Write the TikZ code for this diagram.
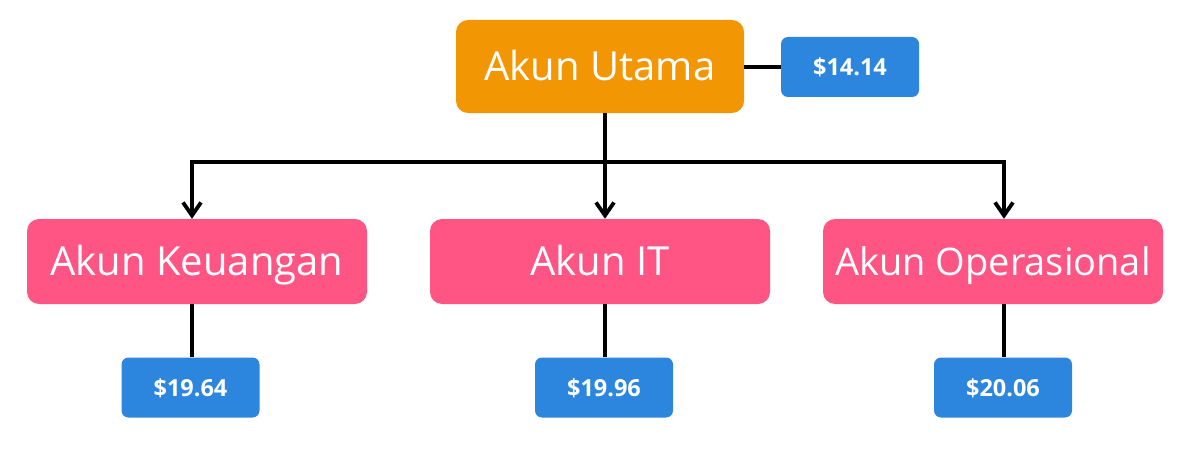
\documentclass[tikz,border=0pt]{standalone}
\usepackage{fontspec}
\setmainfont{Open Sans}
\usetikzlibrary{arrows.meta}
\definecolor{orangebox}{HTML}{F39603}
\definecolor{pinkbox}{HTML}{FF5584}
\definecolor{bluebox}{HTML}{2C86DE}
\tikzset{
  rootbox/.style={fill=orangebox, rounded corners=12pt, minimum width=288pt, minimum height=93pt, text=white, font=\fontsize{40}{44}\selectfont, inner sep=0pt, text height=28.6pt, text depth=0pt},
  childbox/.style={fill=pinkbox, rounded corners=12pt, minimum width=340pt, minimum height=85pt, text=white, font=\fontsize{40}{44}\selectfont, inner sep=0pt, text height=28.6pt, text depth=0pt},
  valbox/.style={fill=bluebox, rounded corners=7pt, minimum width=138pt, minimum height=60pt, text=white, font=\bfseries\fontsize{23.5}{26}\selectfont, inner sep=0pt, text height=17pt, text depth=0pt},
  conn/.style={line width=3.8pt, black},
  arr/.style={conn, -{Straight Barb[length=13pt,width=18pt,line width=3.8pt]}},
}
\begin{document}
\begin{tikzpicture}[x=1pt,y=-1pt]
\useasboundingbox (0,0) rectangle (1200,460);
\node[rootbox] (root) at (600,66.5) {Akun Utama};
\node[valbox] (v0) at (850,67) {\$14.14};
\node[childbox] (keu) at (197,261.5) {Akun Keuangan};
\node[childbox] (it) at (600,261.5) {Akun IT};
\node[childbox, font=\fontsize{38}{42}\selectfont, text height=28pt] (ops) at (993,261.5) {Akun Operasional};
\node[valbox] (v1) at (190.5,387.5) {\$19.64};
\node[valbox] (v2) at (604,387.5) {\$19.96};
\node[valbox] (v3) at (1003,387.5) {\$20.06};
\coordinate (bl) at (192,162);
\coordinate (bm) at (605,162);
\coordinate (br) at (1004,162);
\draw[conn] (v0.west -| root.east) -- (v0.west);
\draw[conn, line cap=rect] (bl) -- (br);
\draw[arr] (root.south -| bm) -- (it.north -| bm);
\draw[arr] (bl) -- (keu.north -| bl);
\draw[arr] (br) -- (ops.north -| br);
\draw[conn] (keu.south -| bl) -- (v1.north -| bl);
\draw[conn] (it.south -| bm) -- (v2.north -| bm);
\draw[conn] (ops.south -| br) -- (v3.north -| br);
\end{tikzpicture}
\end{document}
